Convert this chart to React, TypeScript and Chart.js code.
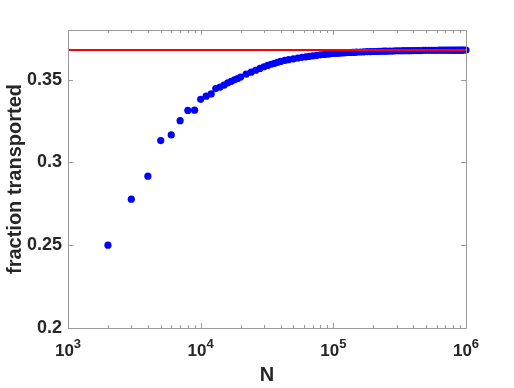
import React, { useEffect, useRef } from "react";
import { Chart, registerables } from "chart.js";

Chart.register(...registerables);

// ---- data ----
const nValues = [
  2000, 3000, 4000, 5000, 6000, 7000, 8000, 9000, 10000, 11000, 12000, 13000,
  14000, 15000, 16000, 17000, 18000, 19000, 20000, 22000, 24000, 26000, 28000,
  30000, 32000, 34000, 36000, 38000, 40000, 43000, 46000, 50000, 54000, 58000,
  62000, 66000, 70000, 75000, 80000, 85000, 90000, 95000, 100000, 105000,
  110000, 115000, 120000, 125000, 130000, 135000, 140000, 145000, 150000,
  160000, 170000, 180000, 190000, 200000, 210000, 220000, 230000, 240000,
  250000, 265000, 280000, 295000, 310000, 325000, 340000, 360000, 380000,
  400000, 420000, 440000, 460000, 480000, 500000, 525000, 550000, 575000,
  600000, 630000, 660000, 690000, 720000, 750000, 780000, 810000, 840000,
  870000, 900000, 930000, 960000, 1000000,
];
const fractionValues = [
  0.25, 0.2778, 0.2917, 0.3132, 0.3166, 0.3252, 0.3314, 0.3316, 0.3381, 0.34,
  0.3414, 0.3446, 0.3455, 0.3467, 0.3481, 0.349, 0.3499, 0.3507, 0.3516,
  0.3533, 0.3545, 0.3557, 0.3568, 0.3578, 0.3586, 0.3593, 0.3599, 0.3605,
  0.361, 0.3616, 0.3621, 0.3626, 0.3631, 0.3635, 0.3638, 0.3641, 0.3644,
  0.3647, 0.365, 0.3652, 0.3654, 0.3656, 0.3658, 0.3659, 0.366, 0.3661,
  0.3662, 0.3663, 0.3664, 0.3664, 0.3665, 0.3665, 0.3666, 0.3667, 0.3668,
  0.3669, 0.3669, 0.367, 0.367, 0.3671, 0.3671, 0.3672, 0.3672, 0.3673,
  0.3673, 0.3674, 0.3674, 0.3674, 0.3675, 0.3675, 0.3675, 0.3676, 0.3676,
  0.3676, 0.3676, 0.3677, 0.3677, 0.3677, 0.3677, 0.3677, 0.3677, 0.3678,
  0.3678, 0.3678, 0.3678, 0.3678, 0.3678, 0.3678, 0.3678, 0.3678, 0.3678,
  0.3678, 0.3679, 0.3679,
];
const limitValue = 0.3679;
const xRange = [1000, 1000000];
const yRange = [0.2, 0.38];
const xTickValues = [1000, 10000, 100000, 1000000];
const xTickBases = ["10", "10", "10", "10"];
const xTickExponents = ["3", "4", "5", "6"];
const yTickValues = [0.2, 0.25, 0.3, 0.35];
const yTickLabels = ["0.2", "0.25", "0.3", "0.35"];
const minorMultipliers = [2, 3, 4, 5, 6, 7, 8, 9];
const xTitle = "N";
const yTitle = "fraction transported";

const FONT = '"Liberation Sans", Arial, Helvetica, sans-serif';
const TEXT_COLOR = "#262626";
const FRAME_COLOR = "#9a9a9a";

const framePlugin = {
  id: "matlabFrame",
  afterDraw(chart: any) {
    const { ctx, chartArea } = chart;
    const xs = chart.scales.x;
    const ys = chart.scales.y;
    const { left, right, top, bottom } = chartArea;
    ctx.save();
    ctx.strokeStyle = FRAME_COLOR;
    ctx.lineWidth = 1;
    ctx.beginPath();
    ctx.rect(Math.round(left) + 0.5, Math.round(top) + 0.5, Math.round(right - left), Math.round(bottom - top));
    ctx.stroke();
    const major = 5;
    const minor = 3;
    ctx.beginPath();
    const xTick = (v: number, len: number) => {
      const px = Math.round(xs.getPixelForValue(v)) + 0.5;
      ctx.moveTo(px, bottom);
      ctx.lineTo(px, bottom - len);
      ctx.moveTo(px, top);
      ctx.lineTo(px, top + len);
    };
    xTickValues.forEach((v) => xTick(v, major));
    xTickValues.slice(0, -1).forEach((d) =>
      minorMultipliers.forEach((m) => xTick(d * m, minor))
    );
    yTickValues.forEach((v) => {
      const py = Math.round(ys.getPixelForValue(v)) + 0.5;
      ctx.moveTo(left, py);
      ctx.lineTo(left + major, py);
      ctx.moveTo(right, py);
      ctx.lineTo(right - major, py);
    });
    ctx.stroke();

    // x tick labels: base with raised exponent
    ctx.fillStyle = TEXT_COLOR;
    ctx.textBaseline = "alphabetic";
    ctx.textAlign = "left";
    const baseFont = `bold 17px ${FONT}`;
    const expFont = `bold 13px ${FONT}`;
    const baseY = bottom + 28;
    xTickValues.forEach((v, i) => {
      const px = xs.getPixelForValue(v);
      ctx.font = baseFont;
      const wb = ctx.measureText(xTickBases[i]).width;
      ctx.font = expFont;
      const we = ctx.measureText(xTickExponents[i]).width;
      const x0 = px - (wb + we) / 2;
      ctx.font = baseFont;
      ctx.fillText(xTickBases[i], x0, baseY);
      ctx.font = expFont;
      ctx.fillText(xTickExponents[i], x0 + wb, baseY - 8);
    });
    ctx.restore();
  },
};

export default function App() {
  const ref = useRef<HTMLCanvasElement | null>(null);
  useEffect(() => {
    document.body.style.margin = "0";
    if (!ref.current) return;
    const points = nValues.map((n, i) => ({ x: n, y: fractionValues[i] }));
    const chart = new Chart(ref.current, {
      type: "scatter",
      data: {
        datasets: [
          {
            type: "line",
            data: [
              { x: xRange[0], y: limitValue },
              { x: xRange[1], y: limitValue },
            ],
            borderColor: "#ff0000",
            borderWidth: 2,
            pointRadius: 0,
            fill: false,
            order: 0,
          } as any,
          {
            data: points,
            backgroundColor: "#0000ff",
            borderWidth: 0,
            pointRadius: 3.6,
            clip: false,
            order: 1,
          } as any,
        ],
      },
      options: {
        animation: false,
        responsive: false,
        layout: { padding: { left: 0, top: 30, right: 48, bottom: 0 } },
        plugins: { legend: { display: false }, tooltip: { enabled: false } },
        scales: {
          x: {
            type: "logarithmic",
            min: xRange[0],
            max: xRange[1],
            grid: { display: false, drawTicks: false },
            border: { display: false },
            afterBuildTicks: (s: any) => {
              s.ticks = xTickValues.map((v) => ({ value: v }));
            },
            afterFit: (s: any) => {
              s.height = 60;
            },
            ticks: { display: false },
            title: {
              display: true,
              text: xTitle,
              color: TEXT_COLOR,
              font: { family: FONT, size: 20, weight: "bold" },
              padding: { top: 0, bottom: 1 },
            },
          },
          y: {
            type: "linear",
            min: yRange[0],
            max: yRange[1],
            grid: { display: false, drawTicks: false },
            border: { display: false },
            afterBuildTicks: (s: any) => {
              s.ticks = yTickValues.map((v) => ({ value: v }));
            },
            afterFit: (s: any) => {
              s.width = 68;
            },
            ticks: {
              padding: 6,
              color: TEXT_COLOR,
              autoSkip: false,
              font: { family: FONT, size: 18, weight: "bold" },
              callback: (v: any) => {
                const i = yTickValues.findIndex((t) => Math.abs(t - Number(v)) < 1e-9);
                return i >= 0 ? yTickLabels[i] : "";
              },
            },
            title: {
              display: true,
              text: yTitle,
              color: TEXT_COLOR,
              font: { family: FONT, size: 20, weight: "bold" },
              padding: { top: 3, bottom: 0 },
            },
          },
        },
      },
      plugins: [framePlugin],
    });
    return () => chart.destroy();
  }, []);
  return (
    <div style={{ width: 514, height: 388, background: "#ffffff" }}>
      <canvas ref={ref} width={514} height={388} style={{ display: "block" }} />
    </div>
  );
}
